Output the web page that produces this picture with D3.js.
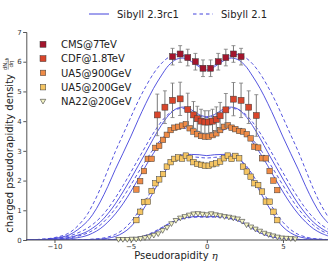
<!DOCTYPE html>
<html>
<head>
<meta charset="utf-8">
<script src="https://cdn.jsdelivr.net/npm/d3@7"></script>
<style>
  html, body { margin: 0; padding: 0; background: #fff; }
  svg { display: block; font-family: 'DejaVu Sans', sans-serif; }
</style>
</head>
<body>
<div id="chart"></div>
<script>
// model curves (Sibyll), sampled on a common eta grid
const etaGrid = [-12, -11, -10, -9, -8, -7.5, -7, -6.5, -6, -5.5, -5, -4.5, -4, -3.5, -3, -2.5, -2, -1.5, -1, -0.5,
  0, 0.5, 1, 1.5, 2, 2.5, 3, 3.5, 4, 4.5, 5, 5.5, 6, 6.5, 7, 7.5, 8];

const cmsSolid = [0, 0.01, 0.06, 0.18, 0.55, 0.85, 1.28, 1.8, 2.38, 2.92, 3.47, 4.05, 4.6, 5.1, 5.52, 5.88, 6.08, 6.12, 6.0, 5.83,
  5.72, 5.83, 6.0, 6.12, 6.08, 5.88, 5.52, 5.1, 4.6, 4.05, 3.47, 2.92, 2.38, 1.8, 1.28, 0.85, 0.55];
const cmsDashed = [0, 0.02, 0.08, 0.25, 0.75, 1.18, 1.72, 2.35, 2.98, 3.55, 4.12, 4.68, 5.17, 5.6, 5.93, 6.15, 6.24, 6.2, 6.05, 5.88,
  5.8, 5.88, 6.05, 6.2, 6.24, 6.15, 5.93, 5.6, 5.17, 4.68, 4.12, 3.55, 2.98, 2.35, 1.72, 1.18, 0.75];
const cdfSolid = [0, 0.01, 0.03, 0.09, 0.25, 0.4, 0.6, 0.88, 1.22, 1.62, 2.05, 2.5, 2.95, 3.42, 3.85, 4.2, 4.42, 4.47, 4.38, 4.22,
  4.15, 4.22, 4.38, 4.47, 4.42, 4.2, 3.85, 3.42, 2.95, 2.5, 2.05, 1.62, 1.22, 0.88, 0.6, 0.4, 0.25];
const cdfDashed = [0, 0.02, 0.05, 0.14, 0.35, 0.52, 0.75, 1.05, 1.42, 1.83, 2.27, 2.72, 3.17, 3.6, 3.97, 4.25, 4.4, 4.42, 4.32, 4.18,
  4.12, 4.18, 4.32, 4.42, 4.4, 4.25, 3.97, 3.6, 3.17, 2.72, 2.27, 1.83, 1.42, 1.05, 0.75, 0.52, 0.35];
const ua900Solid = [0, 0, 0.01, 0.04, 0.13, 0.23, 0.38, 0.6, 0.88, 1.22, 1.62, 2.05, 2.5, 2.92, 3.3, 3.6, 3.77, 3.82, 3.75, 3.62,
  3.56, 3.62, 3.75, 3.82, 3.77, 3.6, 3.3, 2.92, 2.5, 2.05, 1.62, 1.22, 0.88, 0.6, 0.38, 0.23, 0.13];
const ua900Dashed = [0, 0.01, 0.02, 0.07, 0.2, 0.32, 0.5, 0.75, 1.06, 1.43, 1.84, 2.27, 2.68, 3.06, 3.38, 3.62, 3.75, 3.77, 3.68, 3.55,
  3.5, 3.55, 3.68, 3.77, 3.75, 3.62, 3.38, 3.06, 2.68, 2.27, 1.84, 1.43, 1.06, 0.75, 0.5, 0.32, 0.2];
const ua200Solid = [0, 0, 0, 0, 0.01, 0.02, 0.03, 0.06, 0.12, 0.24, 0.44, 0.77, 1.17, 1.62, 2.08, 2.5, 2.8, 2.87, 2.88, 2.87,
  2.84, 2.87, 2.88, 2.87, 2.8, 2.5, 2.08, 1.62, 1.17, 0.77, 0.44, 0.24, 0.12, 0.06, 0.03, 0.02, 0.01];
const ua200Dashed = [0, 0, 0, 0, 0.01, 0.03, 0.05, 0.1, 0.19, 0.35, 0.6, 0.95, 1.35, 1.78, 2.2, 2.55, 2.74, 2.8, 2.8, 2.78,
  2.76, 2.78, 2.8, 2.8, 2.74, 2.55, 2.2, 1.78, 1.35, 0.95, 0.6, 0.35, 0.19, 0.1, 0.05, 0.03, 0.01];
const na22Solid = [0, 0, 0, 0, 0, 0.005, 0.01, 0.01, 0.02, 0.03, 0.05, 0.08, 0.14, 0.24, 0.38, 0.54, 0.66, 0.74, 0.78, 0.79,
  0.78, 0.79, 0.78, 0.74, 0.66, 0.54, 0.38, 0.24, 0.14, 0.08, 0.05, 0.03, 0.02, 0.01, 0.01, 0.005, 0];
const na22Dashed = [0, 0, 0, 0, 0, 0.005, 0.01, 0.01, 0.02, 0.03, 0.05, 0.09, 0.16, 0.27, 0.41, 0.55, 0.66, 0.72, 0.76, 0.77,
  0.77, 0.77, 0.76, 0.72, 0.66, 0.55, 0.41, 0.27, 0.16, 0.09, 0.05, 0.03, 0.02, 0.01, 0.01, 0.005, 0];

// measurements
const cmsEta = [-2.25, -1.75, -1.25, -0.75, -0.25, 0.25, 0.75, 1.25, 1.75, 2.25];
const cmsVal = [6.17, 6.26, 6.14, 6.0, 5.78, 5.78, 6.0, 6.14, 6.26, 6.17];
const cmsErr = [0.28, 0.28, 0.28, 0.28, 0.28, 0.28, 0.28, 0.28, 0.28, 0.28];

const cdfEta = [-3.25, -2.75, -2.25, -1.75, -1.25, -0.875, -0.625, -0.375, -0.125, 0.125, 0.375, 0.625, 0.875, 1.25, 1.75, 2.25, 2.75, 3.25];
const cdfVal = [4.21, 4.47, 4.70, 4.75, 4.39, 4.21, 4.08, 4.0, 3.97, 3.97, 4.0, 4.06, 4.18, 4.38, 4.74, 4.70, 4.47, 4.19];
const cdfErr = [0.7, 0.55, 0.58, 0.56, 0.55, 0.45, 0.42, 0.4, 0.38, 0.38, 0.4, 0.42, 0.45, 0.55, 0.56, 0.58, 0.55, 0.7];

const ua5Eta = [-4.625, -4.375, -4.125, -3.875, -3.625, -3.375, -3.125, -2.875, -2.625, -2.375, -2.125, -1.875, -1.625, -1.375, -1.125, -0.875, -0.625, -0.375, -0.125,
  0.125, 0.375, 0.625, 0.875, 1.125, 1.375, 1.625, 1.875, 2.125, 2.375, 2.625, 2.875, 3.125, 3.375, 3.625, 3.875, 4.125, 4.375, 4.625];
const ua900Val = [1.70, 1.98, 2.32, 2.73, 2.73, 3.10, 3.17, 3.37, 3.54, 3.70, 3.78, 3.81, 3.85, 3.90, 3.76, 3.65, 3.56, 3.50, 3.48,
  3.48, 3.53, 3.59, 3.70, 3.81, 3.86, 3.78, 3.73, 3.67, 3.65, 3.56, 3.42, 3.14, 3.11, 2.75, 2.75, 2.32, 2.00, 1.68];
const ua200Val = [0.67, 0.95, 1.28, 1.29, 1.65, 1.91, 2.04, 2.22, 2.47, 2.62, 2.73, 2.78, 2.74, 2.84, 2.75, 2.62, 2.56, 2.53, 2.50,
  2.50, 2.55, 2.58, 2.64, 2.75, 2.84, 2.73, 2.83, 2.75, 2.47, 2.30, 2.13, 1.91, 1.85, 1.63, 1.29, 1.29, 0.95, 0.67];

const na22Eta = [-5.8, -5.51, -5.22, -4.93, -4.64, -4.35, -4.06, -3.77, -3.48, -3.19, -2.9, -2.61, -2.32, -2.03, -1.74, -1.45, -1.16, -0.87, -0.58, -0.29,
  0, 0.29, 0.58, 0.87, 1.16, 1.45, 1.74, 2.03, 2.32, 2.61, 2.9, 3.19, 3.48, 3.77, 4.06, 4.35, 4.64, 4.93, 5.22, 5.51, 5.8];
const na22Val = [0.01, 0.01, 0.01, 0.02, 0.02, 0.04, 0.07, 0.10, 0.15, 0.20, 0.31, 0.41, 0.54, 0.65, 0.73, 0.78, 0.83, 0.87, 0.88, 0.86,
  0.84, 0.875, 0.84, 0.81, 0.78, 0.76, 0.73, 0.70, 0.62, 0.50, 0.43, 0.36, 0.29, 0.22, 0.17, 0.13, 0.09, 0.06, 0.05, 0.04, 0.03];

const xTicks = [-10, -5, 0, 5];
const yTicks = [0, 1, 2, 3, 4, 5, 6, 7];

const datasets = [
  { label: 'CMS@7TeV', eta: cmsEta, val: cmsVal, err: cmsErr, color: '#a3152d', shape: 'square', size: 6 },
  { label: 'CDF@1.8TeV', eta: cdfEta, val: cdfVal, err: cdfErr, color: '#d8452b', shape: 'square', size: 6 },
  { label: 'UA5@900GeV', eta: ua5Eta, val: ua900Val, err: null, color: '#ef8b46', shape: 'square', size: 5.5 },
  { label: 'UA5@200GeV', eta: ua5Eta, val: ua200Val, err: null, color: '#f5c563', shape: 'square', size: 5.5 },
  { label: 'NA22@20GeV', eta: na22Eta, val: na22Val, err: null, color: '#f6f6c4', shape: 'triangle', size: 5.5 },
];

const models = [
  { vals: cmsDashed, dashed: true }, { vals: cmsSolid, dashed: false },
  { vals: cdfDashed, dashed: true }, { vals: cdfSolid, dashed: false },
  { vals: ua900Dashed, dashed: true }, { vals: ua900Solid, dashed: false },
  { vals: ua200Dashed, dashed: true }, { vals: ua200Solid, dashed: false },
  { vals: na22Dashed, dashed: true }, { vals: na22Solid, dashed: false },
];

const W = 335, H = 263;
const lineColor = '#4343dc';

const svg = d3.select('#chart').append('svg').attr('width', W).attr('height', H);

const x = d3.scaleLinear().domain([-11.85, 7.95]).range([26.3, 327.9]);
const y = d3.scaleLinear().domain([0, 7]).range([240, 32]);

svg.append('clipPath').attr('id', 'plot')
  .append('rect')
  .attr('x', x.range()[0]).attr('y', 0)
  .attr('width', x.range()[1] - x.range()[0]).attr('height', y(0));

const line = d3.line()
  .x((d, i) => x(etaGrid[i]))
  .y(d => y(d))
  .curve(d3.curveCatmullRom);

const curves = svg.append('g').attr('clip-path', 'url(#plot)');
models.forEach((m) => {
  curves.append('path')
    .datum(m.vals)
    .attr('fill', 'none')
    .attr('stroke', lineColor)
    .attr('stroke-width', 1)
    .attr('stroke-opacity', 0.9)
    .attr('stroke-dasharray', m.dashed ? '3.5,2.5' : null)
    .attr('d', line);
});

// axes
const axisColor = '#555';
const gx = svg.append('g')
  .attr('transform', `translate(0,${y(0)})`)
  .call(d3.axisBottom(x).tickValues(xTicks).tickSize(3).tickPadding(1).tickFormat(d => (d < 0 ? '\u2212' + (-d) : d)));
gx.select('.domain').attr('d', `M${x.range()[0]},0H${x.range()[1]}`);

const gy = svg.append('g')
  .attr('transform', `translate(${x.range()[0]},0)`)
  .call(d3.axisLeft(y).tickValues(yTicks).tickSize(3).tickPadding(1.5).tickFormat(d3.format('d')));

[gx, gy].forEach((g) => {
  g.select('.domain').attr('stroke', axisColor).attr('stroke-width', 1);
  g.selectAll('.tick line').attr('stroke', axisColor);
  g.selectAll('.tick text').attr('fill', '#333').style('font-size', '7px').style('font-family', 'DejaVu Sans');
});

// error bars and markers
function marker(sel, d, cx, cy) {
  if (d.shape === 'square') {
    sel.append('rect')
      .attr('x', cx - d.size / 2).attr('y', cy - d.size / 2)
      .attr('width', d.size).attr('height', d.size)
      .attr('fill', d.color).attr('stroke', '#3a3a3a').attr('stroke-width', 0.5);
  } else {
    const s = d.size / 2;
    sel.append('path')
      .attr('d', `M${cx - s},${cy - s * 0.8}L${cx + s},${cy - s * 0.8}L${cx},${cy + s * 0.9}Z`)
      .attr('fill', d.color).attr('stroke', '#3a3a3a').attr('stroke-width', 0.6);
  }
}

const marks = svg.append('g');
datasets.slice().reverse().forEach((d) => {
  const g = marks.append('g');
  if (d.err) {
    d.eta.forEach((e, i) => {
      const cx = x(e), y1 = y(d.val[i] - d.err[i]), y2 = y(d.val[i] + d.err[i]);
      g.append('line').attr('x1', cx).attr('x2', cx).attr('y1', y1).attr('y2', y2)
        .attr('stroke', '#7a7a7a').attr('stroke-width', 1);
      [y1, y2].forEach(yy => g.append('line')
        .attr('x1', cx - 2).attr('x2', cx + 2).attr('y1', yy).attr('y2', yy)
        .attr('stroke', '#7a7a7a').attr('stroke-width', 0.8));
    });
  }
  d.eta.forEach((e, i) => marker(g, d, x(e), y(d.val[i])));
});

// data legend
const legend = svg.append('g');
datasets.forEach((d, i) => {
  const ly = 44.3 + i * 14.3;
  marker(legend, d, 43, ly);
  legend.append('text')
    .attr('x', 61).attr('y', ly + 3.6)
    .attr('fill', '#222')
    .style('font-size', '10px')
    .text(d.label);
});

// model legend on top
const modelLegend = svg.append('g');
[{ x0: 89, label: 'Sibyll 2.3rc1', dashed: false }, { x0: 193, label: 'Sibyll 2.1', dashed: true }].forEach((m) => {
  modelLegend.append('line')
    .attr('x1', m.x0).attr('x2', m.x0 + 20).attr('y1', 14).attr('y2', 14)
    .attr('stroke', lineColor).attr('stroke-width', 1)
    .attr('stroke-dasharray', m.dashed ? '3.5,3' : null);
  modelLegend.append('text')
    .attr('x', m.x0 + 28).attr('y', 17.6)
    .attr('fill', '#222')
    .style('font-size', '10px')
    .text(m.label);
});

// axis labels
svg.append('text')
  .attr('x', 176).attr('y', 259)
  .attr('text-anchor', 'middle')
  .attr('fill', '#222')
  .style('font-size', '10px')
  .text('Pseudorapidity ')
  .append('tspan')
  .style('font-style', 'italic')
  .style('font-family', 'DejaVu Serif')
  .text('\u03b7');

const yl = svg.append('g').attr('transform', 'translate(12.5,0) rotate(-90)');
yl.append('text')
  .attr('x', -74).attr('y', 0)
  .attr('text-anchor', 'end')
  .attr('fill', '#222')
  .style('font-size', '10px')
  .text('charged pseudorapidity density');
const frac = yl.append('g').attr('transform', 'translate(-64,0)');
frac.append('text').attr('x', 0).attr('y', -5.6).attr('text-anchor', 'middle')
  .attr('fill', '#222').style('font-size', '5.5px')
  .text('dN')
  .append('tspan').attr('dy', 1).style('font-size', '4px').text('ch');
frac.append('line').attr('x1', -5.5).attr('x2', 5.5).attr('y1', -4.2).attr('y2', -4.2)
  .attr('stroke', '#222').attr('stroke-width', 0.4);
frac.append('text').attr('x', 0).attr('y', 0.9).attr('text-anchor', 'middle')
  .attr('fill', '#222').style('font-size', '5.5px')
  .text('d\u03b7');
</script>
</body>
</html>
